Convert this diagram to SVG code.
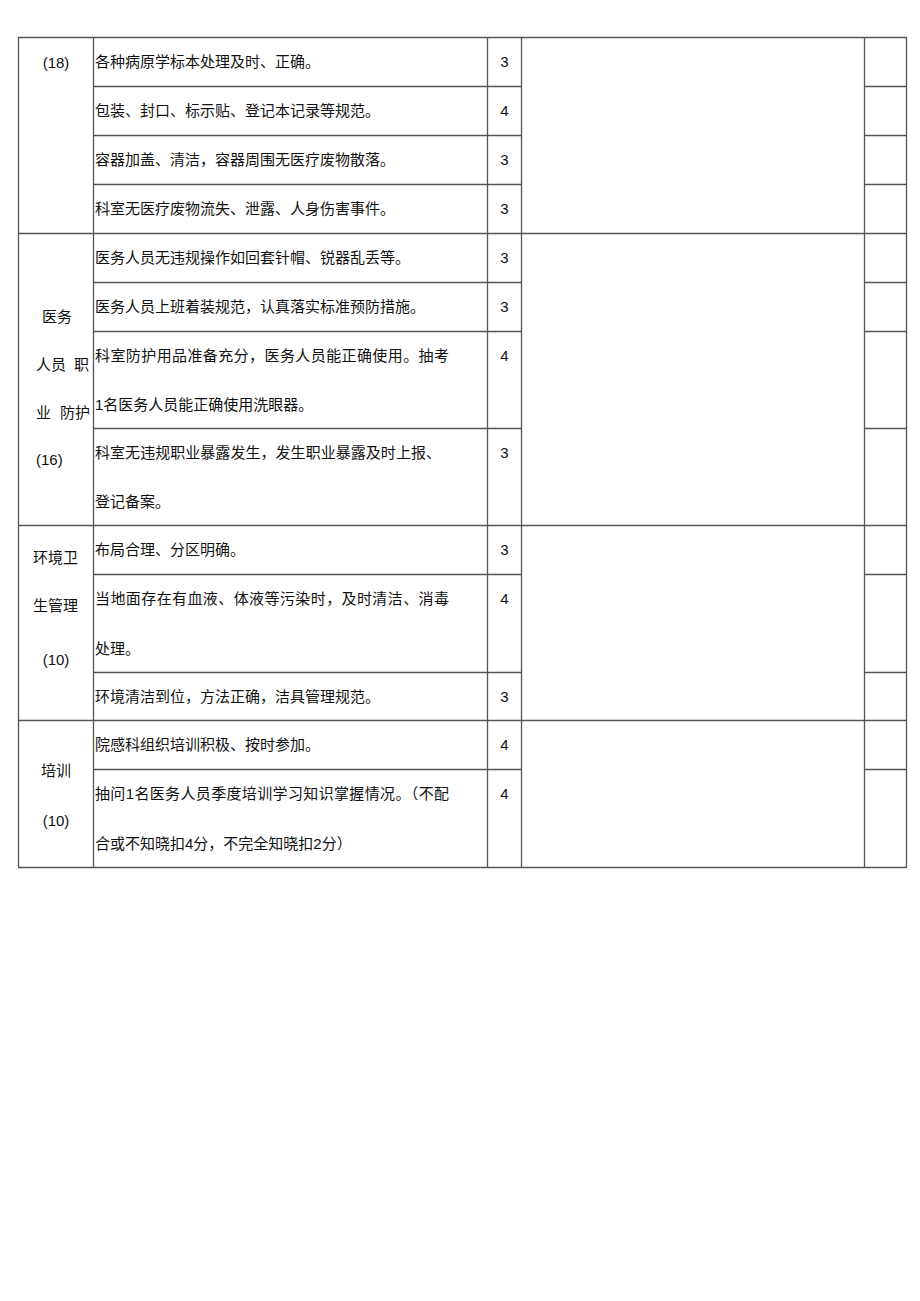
<svg xmlns="http://www.w3.org/2000/svg" width="920" height="1301" viewBox="0 0 920 1301">
<style>
.ln{stroke:#555;stroke-width:1.3;fill:none}
text{font-family:"Liberation Sans","Noto Sans CJK SC",sans-serif;font-size:15px;fill:#111}
.c{text-anchor:middle}
</style>
<rect width="920" height="1301" fill="#fff"/>
<g id="grid" class="ln">
<line x1="18.5" y1="37" x2="18.5" y2="867.5"/>
<line x1="93.5" y1="37" x2="93.5" y2="867.5"/>
<line x1="487.5" y1="37" x2="487.5" y2="867.5"/>
<line x1="521.5" y1="37" x2="521.5" y2="867.5"/>
<line x1="864.5" y1="37" x2="864.5" y2="867.5"/>
<line x1="906.5" y1="37" x2="906.5" y2="867.5"/>
<line x1="18" y1="37.5" x2="907" y2="37.5"/>
<line x1="18" y1="233.5" x2="907" y2="233.5"/>
<line x1="18" y1="525.5" x2="907" y2="525.5"/>
<line x1="18" y1="720.5" x2="907" y2="720.5"/>
<line x1="18" y1="867.5" x2="907" y2="867.5"/>
<path d="M93.5 86.5H521.5M864.5 86.5H906.5M93.5 135.5H521.5M864.5 135.5H906.5M93.5 184.5H521.5M864.5 184.5H906.5M93.5 282.5H521.5M864.5 282.5H906.5M93.5 331.5H521.5M864.5 331.5H906.5M93.5 428.5H521.5M864.5 428.5H906.5M93.5 574.5H521.5M864.5 574.5H906.5M93.5 672.5H521.5M864.5 672.5H906.5M93.5 769.5H521.5M864.5 769.5H906.5"/>
</g>
<g id="sec1">
<text x="56" y="68" class="c">(18)</text>
<text x="95" y="67">各种病原学标本处理及时、正确。</text>
<text x="95" y="116">包装、封口、标示贴、登记本记录等规范。</text>
<text x="95" y="165">容器加盖、清洁，容器周围无医疗废物散落。</text>
<text x="95" y="214">科室无医疗废物流失、泄露、人身伤害事件。</text>
<text x="504.5" y="67" class="c">3</text>
<text x="504.5" y="116" class="c">4</text>
<text x="504.5" y="165" class="c">3</text>
<text x="504.5" y="214" class="c">3</text>
</g>
<g id="sec2">
<text x="42" y="322">医务</text>
<text x="36" y="370">人员 <tspan x="74">职</tspan></text>
<text x="36" y="418">业 <tspan x="60">防护</tspan></text>
<text x="36" y="465">(16)</text>
<text x="95" y="263">医务人员无违规操作如回套针帽、锐器乱丢等。</text>
<text x="95" y="312">医务人员上班着装规范，认真落实标准预防措施。</text>
<text x="95" y="361" textLength="354" lengthAdjust="spacing">科室防护用品准备充分，医务人员能正确使用。抽考</text>
<text x="95" y="410">1名医务人员能正确使用洗眼器。</text>
<text x="95" y="458" textLength="346" lengthAdjust="spacing">科室无违规职业暴露发生，发生职业暴露及时上报、</text>
<text x="95" y="507">登记备案。</text>
<text x="504.5" y="263" class="c">3</text>
<text x="504.5" y="312" class="c">3</text>
<text x="504.5" y="361" class="c">4</text>
<text x="504.5" y="458" class="c">3</text>
</g>
<g id="sec3">
<text x="33" y="563">环境卫</text>
<text x="33" y="611">生管理</text>
<text x="56" y="665" class="c">(10)</text>
<text x="95" y="555">布局合理、分区明确。</text>
<text x="95" y="604" textLength="354" lengthAdjust="spacing">当地面存在有血液、体液等污染时，及时清洁、消毒</text>
<text x="95" y="654">处理。</text>
<text x="95" y="702">环境清洁到位，方法正确，洁具管理规范。</text>
<text x="504.5" y="555" class="c">3</text>
<text x="504.5" y="604" class="c">4</text>
<text x="504.5" y="702" class="c">3</text>
</g>
<g id="sec4">
<text x="56" y="776" class="c">培训</text>
<text x="56" y="826" class="c">(10)</text>
<text x="95" y="750">院感科组织培训积极、按时参加。</text>
<text x="95" y="799" textLength="354" lengthAdjust="spacing">抽问1名医务人员季度培训学习知识掌握情况。（不配</text>
<text x="95" y="849">合或不知晓扣4分，不完全知晓扣2分）</text>
<text x="504.5" y="750" class="c">4</text>
<text x="504.5" y="799" class="c">4</text>
</g>
</svg>
